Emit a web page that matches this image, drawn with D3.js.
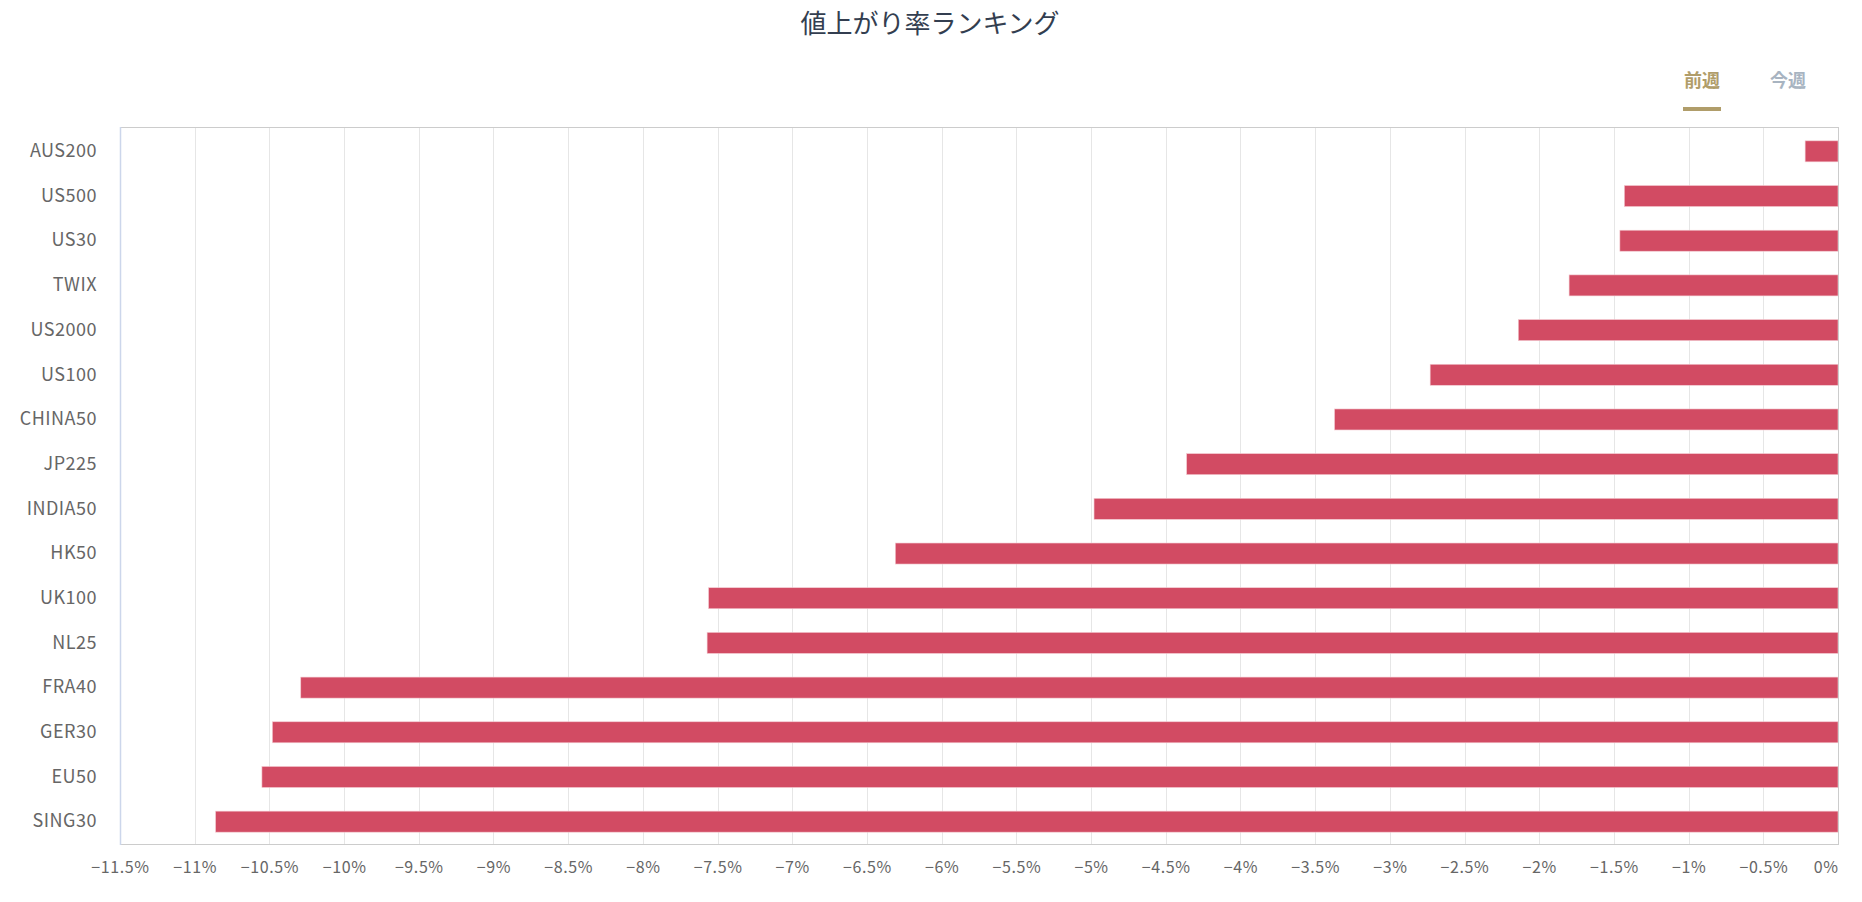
<!DOCTYPE html>
<html><head><meta charset="utf-8">
<script src="https://cdn.jsdelivr.net/npm/d3@7"></script>
<style>
html,body{margin:0;padding:0;background:#fff;}
svg{display:block;}
</style></head>
<body>
<svg id="chart" width="1862" height="902"></svg>
<script>
const title = "値上がり率ランキング";
const tabs = ["前週", "今週"];
const categories = ["AUS200","US500","US30","TWIX","US2000","US100","CHINA50","JP225","INDIA50","HK50","UK100","NL25","FRA40","GER30","EU50","SING30"];
const values = [-0.22,-1.43,-1.46,-1.80,-2.14,-2.73,-3.37,-4.36,-4.98,-6.31,-7.56,-7.57,-10.29,-10.48,-10.55,-10.86];
const tickValues = [-11.5,-11,-10.5,-10,-9.5,-9,-8.5,-8,-7.5,-7,-6.5,-6,-5.5,-5,-4.5,-4,-3.5,-3,-2.5,-2,-1.5,-1,-0.5,0];

const svg = d3.select("#chart");
const W = 1862, H = 902;
const m = {left:120, right:24, top:127, bottom:58};
const pw = W - m.left - m.right, ph = H - m.top - m.bottom;
const font = "'Noto Sans CJK JP', 'Noto Sans', sans-serif";

const x = d3.scaleLinear().domain([-11.5, 0]).range([0, pw]);
const y = d3.scaleBand().domain(categories).range([2, ph]).paddingInner(0.53).paddingOuter(0.265);

svg.append("text").attr("x", 930).attr("y", 33).attr("text-anchor","middle")
  .attr("font-family", font).attr("font-size", 26).attr("fill", "#333e50").text(title);

// tabs
const tabX = [1702, 1788];
tabs.forEach((t,i)=>{
  svg.append("text").attr("x", tabX[i]).attr("y", 87).attr("text-anchor","middle")
    .attr("font-family", font).attr("font-size", 18).attr("font-weight", 700)
    .attr("fill", i===0 ? "#b09d6a" : "#a8b4c1").text(t);
});
svg.append("rect").attr("x", 1683).attr("y", 107).attr("width", 38).attr("height", 4).attr("fill", "#b09d6a");

const g = svg.append("g").attr("transform", `translate(${m.left},${m.top})`);

// grid
g.append("g").selectAll("line").data(tickValues).join("line")
  .attr("x1", d=>Math.round(x(d))+0.5).attr("x2", d=>Math.round(x(d))+0.5)
  .attr("y1", 0).attr("y2", ph).attr("stroke", "#e6e6e6").attr("stroke-width", 1);

// bars
g.append("g").selectAll("rect").data(values).join("rect")
  .attr("x", d=>x(d)).attr("width", d=>x(0)-x(d))
  .attr("y", (d,i)=>y(categories[i])).attr("height", y.bandwidth())
  .attr("fill", "#d24b63").attr("stroke", "#f3c9d0").attr("stroke-width", 0.6);

// border
g.append("rect").attr("x", 0.5).attr("y", 0.5).attr("width", pw).attr("height", ph)
  .attr("fill", "none").attr("stroke", "#cccccc").attr("stroke-width", 1);
g.append("line").attr("x1", 0.5).attr("x2", 0.5).attr("y1", 0).attr("y2", ph+1)
  .attr("stroke", "#ccd6eb").attr("stroke-width", 1.5);

// x axis
const xAxis = d3.axisBottom(x).tickValues(tickValues).tickSize(0).tickPadding(18)
  .tickFormat(d => (d<0 ? "\u2212" : "") + Math.abs(d) + "%");
const xg = g.append("g").attr("transform", `translate(0,${ph})`).call(xAxis);
xg.select(".domain").remove();
xg.selectAll("text").attr("font-family", font).attr("font-size", 16).attr("letter-spacing", "0.6px").attr("fill", "#666666");
xg.selectAll(".tick").filter(d=>d===0).select("text").attr("text-anchor","end").attr("dx", 0);

// y axis
const yAxis = d3.axisLeft(y).tickSize(0).tickPadding(23);
const yg = g.append("g").call(yAxis);
yg.select(".domain").remove();
yg.selectAll("text").attr("font-family", font).attr("font-size", 18).attr("letter-spacing", "0.5px").attr("fill", "#666666");
</script>
</body></html>
